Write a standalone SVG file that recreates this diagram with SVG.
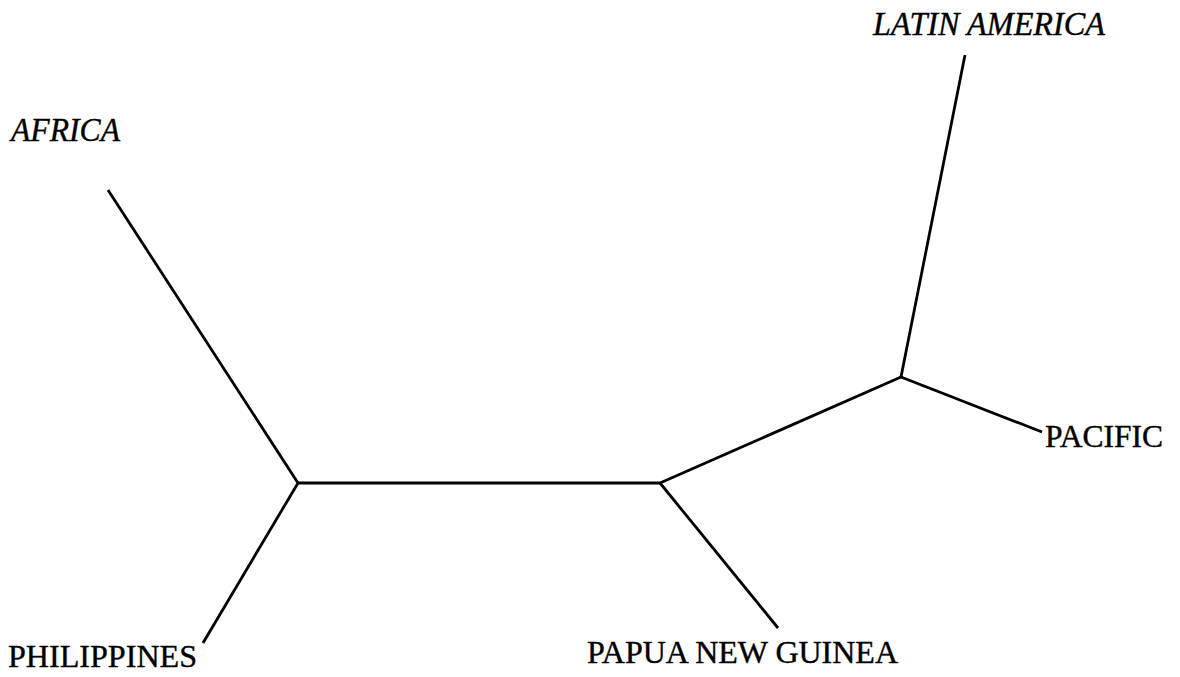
<svg xmlns="http://www.w3.org/2000/svg" width="1180" height="677" viewBox="0 0 1180 677">
<style>
.lbl{font-family:"Liberation Serif","Times New Roman",serif;fill:#000;stroke:#000;stroke-width:0.4}
.it{font-style:italic;font-size:33px}
.rg{font-size:32px}
.edge{stroke:#000;stroke-width:2.8;fill:none;stroke-linecap:butt;stroke-linejoin:miter}
</style>
<rect width="1180" height="677" fill="#fff"/>
<g id="connectors">
<line class="edge" x1="108" y1="190" x2="298" y2="483"/>
<line class="edge" x1="298" y1="483" x2="203" y2="643"/>
<line class="edge" x1="298" y1="483" x2="660" y2="483"/>
<line class="edge" x1="660" y1="483" x2="778" y2="628"/>
<line class="edge" x1="660" y1="483" x2="901" y2="377"/>
<line class="edge" x1="901" y1="377" x2="965" y2="55"/>
<line class="edge" x1="901" y1="377" x2="1042" y2="432"/>
</g>
<g id="node-africa"><text class="lbl it" x="11" y="141" textLength="109" lengthAdjust="spacingAndGlyphs">AFRICA</text></g>
<g id="node-latin-america"><text class="lbl it" x="873" y="35" textLength="232" lengthAdjust="spacingAndGlyphs">LATIN AMERICA</text></g>
<g id="node-pacific"><text class="lbl rg" x="1045" y="447" textLength="118" lengthAdjust="spacingAndGlyphs">PACIFIC</text></g>
<g id="node-philippines"><text class="lbl rg" x="8" y="667" textLength="189" lengthAdjust="spacingAndGlyphs">PHILIPPINES</text></g>
<g id="node-png"><text class="lbl rg" x="587" y="663" textLength="311" lengthAdjust="spacingAndGlyphs">PAPUA NEW GUINEA</text></g>
</svg>
